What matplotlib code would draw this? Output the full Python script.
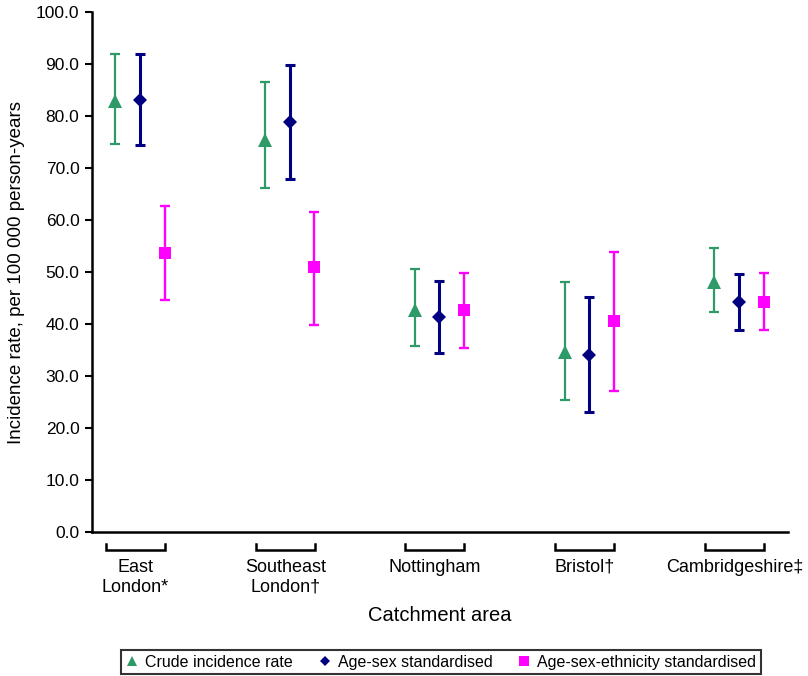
import matplotlib
matplotlib.use("Agg")
import matplotlib.pyplot as plt
import numpy as np
from matplotlib.lines import Line2D

categories = ["East\nLondon*", "Southeast\nLondon\u2020", "Nottingham", "Bristol\u2020", "Cambridgeshire\u2021"]

crude = [82.8, 75.4, 42.6, 34.6, 48.0]
crude_lo = [74.7, 66.1, 35.8, 25.3, 42.4]
crude_hi = [91.9, 86.5, 50.5, 48.0, 54.6]

agesex = [83.0, 78.8, 41.3, 34.0, 44.2]
agesex_lo = [74.4, 67.9, 34.4, 23.1, 38.8]
agesex_hi = [91.9, 89.8, 48.3, 45.2, 49.6]

eth = [53.7, 51.0, 42.6, 40.6, 44.2]
eth_lo = [44.6, 39.9, 35.3, 27.2, 38.8]
eth_hi = [62.7, 61.6, 49.9, 53.9, 49.9]

series_names = ["Crude incidence rate", "Age-sex standardised", "Age-sex-ethnicity standardised"]
yticks = [0, 10, 20, 30, 40, 50, 60, 70, 80, 90, 100]

plt.rcParams['font.family'] = ['Liberation Sans', 'DejaVu Sans']

fig = plt.figure(figsize=(8.08, 6.76), dpi=100)
ax = fig.add_axes([92/808, 1-532/676, 696/808, 520/676])

x = np.arange(len(categories))
off = 0.165
green = '#2e9a68'
navy = '#000080'
magenta = '#ff00ff'

def eb(xs, vals, lo, hi, color, marker, ms, lw):
    vals = np.array(vals); lo = np.array(lo); hi = np.array(hi)
    ax.errorbar(xs, vals, yerr=[vals - lo, hi - vals], fmt='none',
                ecolor=color, elinewidth=lw, capsize=3.3, capthick=lw, zorder=2)
    ax.plot(xs, vals, linestyle='none', marker=marker, color=color,
            markersize=ms, markeredgewidth=0, zorder=3)

eb(x - off, crude, crude_lo, crude_hi, green, '^', 10.5, 1.6)
eb(x, agesex, agesex_lo, agesex_hi, navy, 'D', 7, 2.2)
eb(x + off, eth, eth_lo, eth_hi, magenta, 's', 9, 1.7)

ax.set_xlim(-0.32, 4.327)
ax.set_ylim(0, 100)
ax.set_yticks(yticks)
ax.set_yticklabels([f"{v:.1f}" for v in yticks], fontsize=12.5)
ax.set_xticks([])
for s in ['top', 'right']:
    ax.spines[s].set_visible(False)
ax.spines['left'].set_linewidth(1.8)
ax.spines['bottom'].set_linewidth(1.8)
ax.tick_params(axis='y', direction='out', length=5, width=1.5, pad=4)

ax.set_ylabel("Incidence rate, per 100 000 person-years", fontsize=13.5, labelpad=8)

tr = ax.get_xaxis_transform()
for xi, lab in zip(x, categories):
    c = xi - 0.03
    hw = 0.197
    ax.plot([c - hw, c - hw, c + hw, c + hw], [-0.023, -0.0346, -0.0346, -0.023],
            transform=tr, color='black', lw=1.8, clip_on=False, solid_joinstyle='miter')
    ax.text(c, -0.051, lab, transform=tr, ha='center', va='top', fontsize=13,
            linespacing=1.25)

ax.text(0.5, -0.161, "Catchment area", transform=ax.transAxes, ha='center', va='center',
        fontsize=14.5)

handles = [
    Line2D([], [], color=green, marker='^', linestyle='none', markersize=7, markeredgewidth=0),
    Line2D([], [], color=navy, marker='D', linestyle='none', markersize=5, markeredgewidth=0),
    Line2D([], [], color=magenta, marker='s', linestyle='none', markersize=7, markeredgewidth=0),
]
leg = fig.legend(handles, series_names, loc='lower center', bbox_to_anchor=(441/808, 0.0),
                 ncol=3, frameon=True, fancybox=False, edgecolor='black',
                 prop={'size': 11.5}, handletextpad=0.4, borderaxespad=0.1,
                 columnspacing=1.6, borderpad=0.3, handlelength=0.8)
leg.get_frame().set_linewidth(1.5)

fig.savefig("out.png", dpi=100)
